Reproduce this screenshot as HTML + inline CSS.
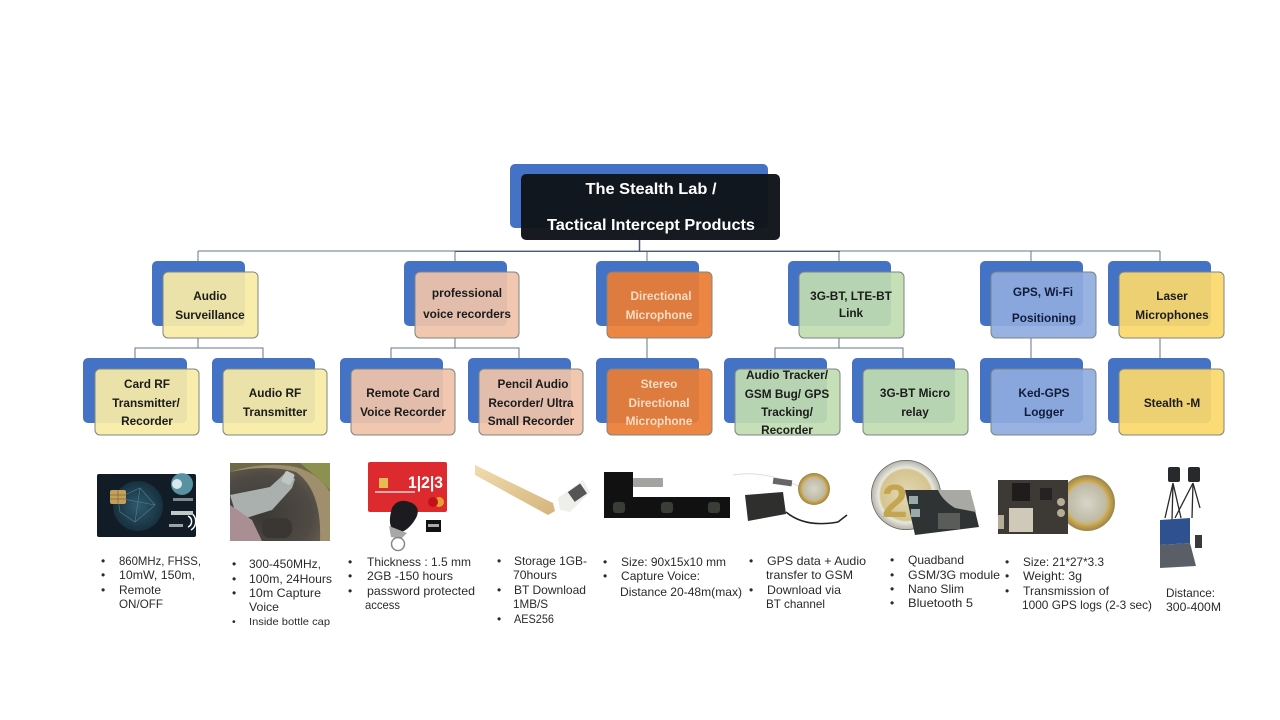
<!DOCTYPE html>
<html><head><meta charset="utf-8"><style>
html,body{margin:0;padding:0;background:#fff;width:1280px;height:720px;overflow:hidden}
svg{display:block;font-family:"Liberation Sans","Noto Sans CJK KR",sans-serif}
.b{fill:#4472c4}
.f{stroke:#7c8584;stroke-width:1;fill-opacity:.92}
.n{font-size:11.8px;font-weight:bold;text-anchor:middle;fill:#1b1b1b}
.t{font-size:12px;fill:#2a2a2a}
.c{stroke:#667589;stroke-width:1;fill:none}
</style></head><body>
<svg width="1280" height="720" viewBox="0 0 1280 720" xmlns="http://www.w3.org/2000/svg">
<defs>
<linearGradient id="pen" x1="0" y1="0" x2="1" y2="1"><stop offset="0" stop-color="#f0dcae"/><stop offset="1" stop-color="#d5b47c"/></linearGradient>
<radialGradient id="coin"><stop offset="0" stop-color="#d8d6c8"/><stop offset=".7" stop-color="#bdb9a5"/><stop offset=".74" stop-color="#d4b25e"/><stop offset="1" stop-color="#9a8444"/></radialGradient>
<radialGradient id="coin2"><stop offset="0" stop-color="#e2d9b8"/><stop offset=".72" stop-color="#d6c48e"/><stop offset=".78" stop-color="#e8e8e0"/><stop offset=".97" stop-color="#b8b8ae"/><stop offset="1" stop-color="#333"/></radialGradient>
<radialGradient id="globe"><stop offset="0" stop-color="#2f5a6e"/><stop offset="1" stop-color="#17303e"/></radialGradient>
<radialGradient id="cup" cx=".35" cy=".65" r=".8"><stop offset="0" stop-color="#3c3936"/><stop offset=".7" stop-color="#4f4a44"/><stop offset="1" stop-color="#6a6152"/></radialGradient>
</defs>

<!-- connectors -->
<path class="c" d="M198 251H1160M198 251V261M455 251V261M647 251V261M839 251V261M1031 251V261M1160 251V261"/>
<path d="M639.500 238V251" stroke="#4a5a70" stroke-width="1.500" fill="none"/>
<path d="M455 251.500H840" stroke="#4a5a70" stroke-width="1" fill="none"/>
<path class="c" d="M198 338V348M135 358V348H263V358"/>
<path class="c" d="M455 338V348M391 358V348H519V358"/>
<path class="c" d="M647 338V369"/>
<path class="c" d="M839 338V348M775 358V348H903V358"/>
<path class="c" d="M1031 338V369"/>
<path class="c" d="M1160 338V369"/>

<!-- root -->
<rect class="b" x="510" y="164" width="258" height="64" rx="5"/>
<rect x="521" y="174" width="259" height="66" rx="5" fill="#10141a" fill-opacity=".97"/>
<text x="651" y="194" font-size="16" font-weight="bold" fill="#fff" text-anchor="middle" lengthAdjust="spacingAndGlyphs" textLength="131">The Stealth Lab /</text>
<text x="651" y="230" font-size="16" font-weight="bold" fill="#fff" text-anchor="middle" lengthAdjust="spacingAndGlyphs" textLength="208">Tactical Intercept Products</text>

<!-- level 1 -->
<rect class="b" x="152" y="261" width="93" height="65" rx="5"/><rect class="f" x="163" y="272" width="95" height="66" rx="5" fill="#f8eba5"/>
<text class="n" x="210" y="300">Audio</text><text class="n" x="210" y="319">Surveillance</text>

<rect class="b" x="404" y="261" width="103" height="65" rx="5"/><rect class="f" x="415" y="272" width="104" height="66" rx="5" fill="#f0c3a8"/>
<text class="n" x="467" y="297">professional</text><text class="n" x="467" y="318">voice recorders</text>

<rect class="b" x="596" y="261" width="103" height="65" rx="5"/><rect class="f" x="607" y="272" width="105" height="66" rx="5" fill="#ec7c32"/>
<text class="n" x="661" y="300" style="fill:#f8dcc4">Directional</text><text class="n" x="659" y="319" style="fill:#f8dcc4">Microphone</text>

<rect class="b" x="788" y="261" width="103" height="65" rx="5"/><rect class="f" x="799" y="272" width="105" height="66" rx="5" fill="#c0dcb0"/>
<text class="n" x="851" y="300">3G-BT, LTE-BT</text><text class="n" x="851" y="317">Link</text>

<rect class="b" x="980" y="261" width="103" height="65" rx="5"/><rect class="f" x="991" y="272" width="105" height="66" rx="5" fill="#8fabde"/>
<text class="n" x="1043" y="296" style="fill:#111c3a">GPS, Wi-Fi</text><text class="n" x="1044" y="322" style="fill:#111c3a">Positioning</text>

<rect class="b" x="1108" y="261" width="103" height="65" rx="5"/><rect class="f" x="1119" y="272" width="105" height="66" rx="5" fill="#fbd869"/>
<text class="n" x="1172" y="300">Laser</text><text class="n" x="1172" y="319">Microphones</text>

<!-- level 2 -->
<rect class="b" x="83" y="358" width="104" height="65" rx="5"/><rect class="f" x="95" y="369" width="104" height="66" rx="5" fill="#f8eba5"/>
<text class="n" x="147" y="388">Card RF</text><text class="n" x="146" y="407">Transmitter/</text><text class="n" x="147" y="425">Recorder</text>

<rect class="b" x="212" y="358" width="103" height="65" rx="5"/><rect class="f" x="223" y="369" width="104" height="66" rx="5" fill="#f8eba5"/>
<text class="n" x="275" y="397">Audio RF</text><text class="n" x="275" y="416">Transmitter</text>

<rect class="b" x="340" y="358" width="103" height="65" rx="5"/><rect class="f" x="351" y="369" width="104" height="66" rx="5" fill="#f0c3a8"/>
<text class="n" x="403" y="397">Remote Card</text><text class="n" x="403" y="416">Voice Recorder</text>

<rect class="b" x="468" y="358" width="103" height="65" rx="5"/><rect class="f" x="479" y="369" width="104" height="66" rx="5" fill="#f0c3a8"/>
<text class="n" x="533" y="388">Pencil Audio</text><text class="n" x="531" y="407">Recorder/ Ultra</text><text class="n" x="531" y="425">Small Recorder</text>

<rect class="b" x="596" y="358" width="103" height="65" rx="5"/><rect class="f" x="607" y="369" width="105" height="66" rx="5" fill="#ec7c32"/>
<text class="n" x="659" y="388" style="fill:#f8dcc4">Stereo</text><text class="n" x="659" y="407" style="fill:#f8dcc4">Directional</text><text class="n" x="659" y="425" style="fill:#f8dcc4">Microphone</text>

<rect class="b" x="724" y="358" width="103" height="65" rx="5"/><rect class="f" x="735" y="369" width="105" height="66" rx="5" fill="#c0dcb0"/>
<text class="n" x="787" y="379">Audio Tracker/</text><text class="n" x="787" y="398">GSM Bug/ GPS</text><text class="n" x="787" y="416">Tracking/</text><text class="n" x="787" y="434">Recorder</text>

<rect class="b" x="852" y="358" width="103" height="65" rx="5"/><rect class="f" x="863" y="369" width="105" height="66" rx="5" fill="#c0dcb0"/>
<text class="n" x="915" y="397">3G-BT Micro</text><text class="n" x="915" y="416">relay</text>

<rect class="b" x="980" y="358" width="103" height="65" rx="5"/><rect class="f" x="991" y="369" width="105" height="66" rx="5" fill="#8fabde"/>
<text class="n" x="1044" y="397" style="fill:#111c3a">Ked-GPS</text><text class="n" x="1044" y="416" style="fill:#111c3a">Logger</text>

<rect class="b" x="1108" y="358" width="103" height="65" rx="5"/><rect class="f" x="1119" y="369" width="105" height="66" rx="5" fill="#fbd869"/>
<text class="n" x="1172" y="407">Stealth -M</text>

<!-- product art: card -->
<rect x="97" y="474" width="99" height="63" rx="2" fill="#121c26"/>
<circle cx="138" cy="506" r="25" fill="url(#globe)"/>
<path d="M118 498L140 488L155 505L135 522L120 512ZM140 488L135 522M118 498L155 505" stroke="#4f8296" stroke-width=".6" fill="none"/>
<rect x="110" y="490" width="16" height="14" rx="2" fill="#c4a05a"/>
<path d="M110 495H126M110 499H126M118 490V504" stroke="#7e6a3a" stroke-width=".7"/>
<circle cx="182" cy="484" r="11" fill="#5f9fb0" fill-opacity=".9"/><circle cx="177" cy="484" r="5" fill="#d8e8ec"/>
<path d="M188 527a6 6 0 0 0 0-11M191 530a10 10 0 0 0 0-17" stroke="#fff" stroke-width="1.500" fill="none"/>
<rect x="173" y="498" width="20" height="3" fill="#7f8890"/><rect x="171" y="511" width="22" height="4" fill="#c0c8cc"/><rect x="169" y="524" width="14" height="3" fill="#9aa2a8"/>

<!-- bottle photo -->
<rect x="230" y="463" width="100" height="78" fill="#a08f6c"/>
<path d="M230 463H330V492Q316 470 290 466Q260 462 230 472Z" fill="#6d6a48"/>
<path d="M300 463H330V490L318 478Z" fill="#8c9150"/>
<path d="M230 472Q268 464 296 472Q322 490 320 541H230Z" fill="url(#cup)"/>
<path d="M230 495L270 487L282 476L286 472L295 479L292 488L272 510L246 518L236 514Z" fill="#a9b0ae"/>
<rect x="283" y="472" width="10" height="12" rx="2" fill="#c0c4c2" transform="rotate(25 288 478)"/>
<path d="M230 505L252 520L262 541H230Z" fill="#a98e94"/>
<rect x="262" y="518" width="30" height="20" rx="8" fill="#3a3633"/>

<!-- red card + fob -->
<rect x="368" y="462" width="79" height="50" rx="2" fill="#dd2a2e"/>
<rect x="379" y="478" width="9" height="10" fill="#e6bd55"/>
<text x="408" y="488" font-size="17" font-weight="bold" fill="#fff" lengthAdjust="spacingAndGlyphs" textLength="35">1|2|3</text>
<rect x="375" y="491" width="40" height="2" fill="#f0a8a8"/>
<circle cx="439" cy="502" r="5" fill="#e8a030"/><circle cx="433" cy="502" r="5" fill="#c41018"/>
<path d="M392 508Q398 497 412 503Q421 508 416 518Q408 532 397 533Q386 528 392 508Z" fill="#1c1c20"/>
<path d="M389 526L407 533L401 539L391 537Z" fill="#a8a8a8"/>
<circle cx="398" cy="544" r="6.500" fill="none" stroke="#888" stroke-width="1.500"/>
<rect x="426" y="520" width="15" height="12" fill="#111"/><rect x="428" y="524" width="11" height="3" fill="#aaa"/>

<!-- pencil -->
<path d="M475 465L553 503L555 511L548 515L475 475Z" fill="url(#pen)"/>
<path d="M558 498L583 480L590 492L570 512L560 510Z" fill="#eeeeea"/>
<rect x="570" y="487" width="15" height="12" fill="#555" transform="rotate(-35 577 493)"/>

<!-- pcb -->
<path d="M604 472H633V497H730V518H604Z" fill="#111"/>
<rect x="633" y="478" width="30" height="9" rx="1" fill="#a3a39f"/>
<rect x="613" y="502" width="12" height="11" rx="3" fill="#3a3c36"/><rect x="661" y="502" width="12" height="11" rx="3" fill="#3a3c36"/><rect x="708" y="502" width="12" height="11" rx="3" fill="#3a3c36"/>

<!-- gsm bug -->
<path d="M733 475Q765 470 798 486" stroke="#ddd" fill="none"/>
<rect x="773" y="479" width="19" height="6" fill="#666" transform="rotate(8 782 482)"/>
<circle cx="814" cy="489" r="16" fill="url(#coin)"/>
<path d="M745 495L783 492L786 514L748 521Z" fill="#2f302e"/>
<path d="M786 512Q805 528 838 522L847 515" stroke="#222" stroke-width="1.500" fill="none"/>

<!-- 2 euro + module -->
<circle cx="906" cy="495" r="35" fill="url(#coin2)"/>
<text x="882" y="517" font-size="46" font-weight="bold" fill="#c4a650">2</text>
<path d="M905 490L970 490L979 527L915 535Z" fill="#2f3334"/>
<path d="M938 490H970L976 512L955 508Q942 500 938 490Z" fill="#a8a8a4"/>
<rect x="938" y="513" width="22" height="16" fill="#5a5c5a"/>
<rect x="909" y="496" width="9" height="8" fill="#9aa"/><rect x="911" y="509" width="9" height="8" fill="#9aa"/>

<!-- logger + euro -->
<circle cx="1087" cy="503" r="28" fill="url(#coin)"/>
<rect x="998" y="480" width="70" height="54" fill="#3d3a35"/>
<rect x="1012" y="483" width="18" height="18" fill="#1e1d1c"/><rect x="1040" y="488" width="12" height="12" fill="#242322"/>
<rect x="1009" y="508" width="24" height="24" fill="#cfc9ba"/>
<circle cx="1061" cy="502" r="4" fill="#b5ad98"/><circle cx="1061" cy="513" r="4" fill="#b5ad98"/>
<rect x="998" y="515" width="6" height="14" fill="#b5ad98"/>

<!-- tripods + case -->
<g stroke="#2a2a2a" stroke-width="1.300" fill="none">
<path d="M1173 483L1165 518M1173 483L1172 520M1173 483L1181 518M1193 483L1175 518M1193 483L1192 518M1193 483L1200 508"/>
</g>
<rect x="1168" y="467" width="12" height="15" rx="2" fill="#27292c"/><rect x="1188" y="467" width="12" height="15" rx="2" fill="#27292c"/>
<path d="M1160 520L1190 518V543L1160 545Z" fill="#2f5190"/>
<path d="M1160 545L1190 543L1196 566L1160 568Z" fill="#5a5e66"/>
<rect x="1195" y="535" width="7" height="13" fill="#3a3a38"/>

<!-- bullets -->
<text class="t" x="101" y="565">•</text><text class="t" x="119" y="565" lengthAdjust="spacingAndGlyphs" textLength="82">860MHz, FHSS,</text>
<text class="t" x="101" y="579">•</text><text class="t" x="119" y="579" lengthAdjust="spacingAndGlyphs" textLength="76">10mW, 150m,</text>
<text class="t" x="101" y="594">•</text><text class="t" x="119" y="594" lengthAdjust="spacingAndGlyphs" textLength="42">Remote</text>
<text class="t" x="119" y="608" lengthAdjust="spacingAndGlyphs" textLength="44">ON/OFF</text>

<text class="t" x="232" y="568">•</text><text class="t" x="249" y="568" lengthAdjust="spacingAndGlyphs" textLength="72">300-450MHz,</text>
<text class="t" x="232" y="583">•</text><text class="t" x="249" y="583" lengthAdjust="spacingAndGlyphs" textLength="83">100m, 24Hours</text>
<text class="t" x="232" y="597">•</text><text class="t" x="249" y="597" lengthAdjust="spacingAndGlyphs" textLength="72">10m Capture</text>
<text class="t" x="249" y="611" lengthAdjust="spacingAndGlyphs" textLength="30">Voice</text>
<text class="t" x="232" y="625" style="font-size:10.500px">•</text><text class="t" x="249" y="625" style="font-size:10.500px" lengthAdjust="spacingAndGlyphs" textLength="81">Inside bottle cap</text>

<text class="t" x="348" y="566">•</text><text class="t" x="367" y="566" lengthAdjust="spacingAndGlyphs" textLength="104">Thickness : 1.5 mm</text>
<text class="t" x="348" y="580">•</text><text class="t" x="367" y="580" lengthAdjust="spacingAndGlyphs" textLength="86">2GB -150 hours</text>
<text class="t" x="348" y="595">•</text><text class="t" x="367" y="595" lengthAdjust="spacingAndGlyphs" textLength="108">password protected</text>
<text class="t" x="365" y="609" lengthAdjust="spacingAndGlyphs" textLength="35">access</text>

<text class="t" x="497" y="565">•</text><text class="t" x="514" y="565" lengthAdjust="spacingAndGlyphs" textLength="73">Storage 1GB-</text>
<text class="t" x="513" y="579" lengthAdjust="spacingAndGlyphs" textLength="44">70hours</text>
<text class="t" x="497" y="594">•</text><text class="t" x="514" y="594" lengthAdjust="spacingAndGlyphs" textLength="72">BT Download</text>
<text class="t" x="513" y="608" lengthAdjust="spacingAndGlyphs" textLength="35">1MB/S</text>
<text class="t" x="497" y="623">•</text><text class="t" x="514" y="623" lengthAdjust="spacingAndGlyphs" textLength="40">AES256</text>

<text class="t" x="603" y="566">•</text><text class="t" x="621" y="566" lengthAdjust="spacingAndGlyphs" textLength="105">Size: 90x15x10 mm</text>
<text class="t" x="603" y="580">•</text><text class="t" x="621" y="580" lengthAdjust="spacingAndGlyphs" textLength="79">Capture Voice:</text>
<text class="t" x="620" y="596" lengthAdjust="spacingAndGlyphs" textLength="122">Distance 20-48m(max)</text>

<text class="t" x="749" y="565">•</text><text class="t" x="767" y="565" lengthAdjust="spacingAndGlyphs" textLength="99">GPS data + Audio</text>
<text class="t" x="766" y="579" lengthAdjust="spacingAndGlyphs" textLength="87">transfer to GSM</text>
<text class="t" x="749" y="594">•</text><text class="t" x="767" y="594" lengthAdjust="spacingAndGlyphs" textLength="74">Download via</text>
<text class="t" x="766" y="608" lengthAdjust="spacingAndGlyphs" textLength="59">BT channel</text>

<text class="t" x="890" y="564">•</text><text class="t" x="908" y="564" lengthAdjust="spacingAndGlyphs" textLength="56">Quadband</text>
<text class="t" x="890" y="579">•</text><text class="t" x="908" y="579" lengthAdjust="spacingAndGlyphs" textLength="92">GSM/3G module</text>
<text class="t" x="890" y="593">•</text><text class="t" x="908" y="593" lengthAdjust="spacingAndGlyphs" textLength="56">Nano Slim</text>
<text class="t" x="890" y="607">•</text><text class="t" x="908" y="607" lengthAdjust="spacingAndGlyphs" textLength="65">Bluetooth 5</text>

<text class="t" x="1005" y="566">•</text><text class="t" x="1023" y="566" lengthAdjust="spacingAndGlyphs" textLength="81">Size: 21*27*3.3</text>
<text class="t" x="1005" y="580">•</text><text class="t" x="1023" y="580" lengthAdjust="spacingAndGlyphs" textLength="59">Weight: 3g</text>
<text class="t" x="1005" y="595">•</text><text class="t" x="1023" y="595" lengthAdjust="spacingAndGlyphs" textLength="86">Transmission of</text>
<text class="t" x="1022" y="609" lengthAdjust="spacingAndGlyphs" textLength="130">1000 GPS logs (2-3 sec)</text>

<text class="t" x="1166" y="597" lengthAdjust="spacingAndGlyphs" textLength="49">Distance:</text>
<text class="t" x="1166" y="611" lengthAdjust="spacingAndGlyphs" textLength="55">300-400M</text>
</svg>
</body></html>
